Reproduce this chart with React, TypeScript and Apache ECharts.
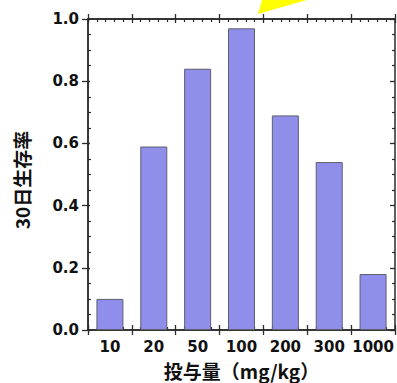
import React, { useEffect, useRef } from "react";
import * as echarts from "echarts";

const categories = ["10", "20", "50", "100", "200", "300", "1000"];
const survival = [0.1, 0.59, 0.84, 0.97, 0.69, 0.54, 0.18];
const yTicks = [0, 0.2, 0.4, 0.6, 0.8, 1.0];
const xTitle = "投与量（mg/kg）";
const yTitle = "30日生存率";

const AX = "#2a2a2a";

export default function App() {
  const ref = useRef<HTMLDivElement>(null);
  useEffect(() => {
    const chart = echarts.init(ref.current!, null, { renderer: "svg" });
    const line = { show: true, onZero: false, lineStyle: { color: AX, width: 1.5 } };
    const grid = { left: 88, right: 2, top: 19, bottom: 53, containLabel: false, outerBoundsMode: "none" };
    const valX = (pos: string, inside: boolean, len: number, minor: boolean) => ({
      type: "value",
      position: pos,
      min: 0,
      max: categories.length,
      interval: 1,
      axisLine: line,
      axisTick: { show: true, inside, length: len, lineStyle: { color: AX, width: 1.3 } },
      minorTick: { show: minor, splitNumber: 5, length: 3, lineStyle: { color: AX, width: 1.2 } },
      axisLabel: { show: false },
      splitLine: { show: false },
      minorSplitLine: { show: false },
    });
    const valY = (pos: string, inside: boolean, len: number, minor: boolean, labels: boolean) => ({
      type: "value",
      position: pos,
      min: 0,
      max: 1,
      interval: 0.2,
      axisLine: line,
      axisTick: { show: true, inside, length: len, lineStyle: { color: AX, width: 1.3 } },
      minorTick: { show: minor, splitNumber: 4, length: 3, lineStyle: { color: AX, width: 1.2 } },
      axisLabel: {
        show: labels,
        margin: 9,
        formatter: (v: number) => (yTicks.includes(Math.round(v * 10) / 10) ? v.toFixed(1) : ""),
        fontFamily: "DejaVu Sans",
        fontWeight: "bold",
        fontSize: 15,
        color: "#111",
      },
      splitLine: { show: false },
      minorSplitLine: { show: false },
    });
    chart.setOption({
      animation: false,
      grid,
      xAxis: [
        {
          type: "category",
          position: "bottom",
          data: categories,
          axisLine: line,
          axisTick: { show: true, inside: false, length: 5, alignWithLabel: false, lineStyle: { color: AX, width: 1.3 } },
          axisLabel: {
            interval: 0,
            margin: 9,
            fontFamily: "DejaVu Sans",
            fontWeight: "bold",
            fontSize: 15,
            color: "#111",
          },
          name: xTitle,
          nameLocation: "middle",
          nameGap: 31,
          nameTextStyle: {
            fontFamily: "Noto Sans CJK JP",
            fontWeight: "bold",
            fontSize: 19,
            color: "#111",
          },
          splitLine: { show: false },
        },
        valX("bottom", true, 5, true),
        valX("top", false, 5, false),
        valX("top", true, 4, true),
      ],
      yAxis: [
        valY("left", false, 6, false, true),
        valY("left", true, 2, true, false),
        valY("right", true, 5, true, false),
      ],
      series: [
        {
          type: "bar",
          xAxisIndex: 0,
          yAxisIndex: 0,
          data: survival,
          barWidth: 27,
          itemStyle: { color: "#8f8feb", borderColor: "#5e5e6e", borderWidth: 1 },
        },
      ],
      graphic: [
        {
          type: "text",
          x: 21,
          y: 180,
          rotation: Math.PI / 2,
          style: {
            text: yTitle,
            fontFamily: "Noto Sans CJK JP",
            fontWeight: "bold",
            fontSize: 19,
            fill: "#111",
            align: "center",
            verticalAlign: "middle",
          },
        },
        {
          type: "polygon",
          shape: { points: [[258, 14], [262, 0], [307, 0]] },
          style: { fill: "#ffff00" },
          z: 10,
        },
      ],
    });
    return () => chart.dispose();
  }, []);
  return (
    <div
      ref={ref}
      style={{ position: "absolute", left: 0, top: 0, width: 397, height: 383 }}
    />
  );
}
